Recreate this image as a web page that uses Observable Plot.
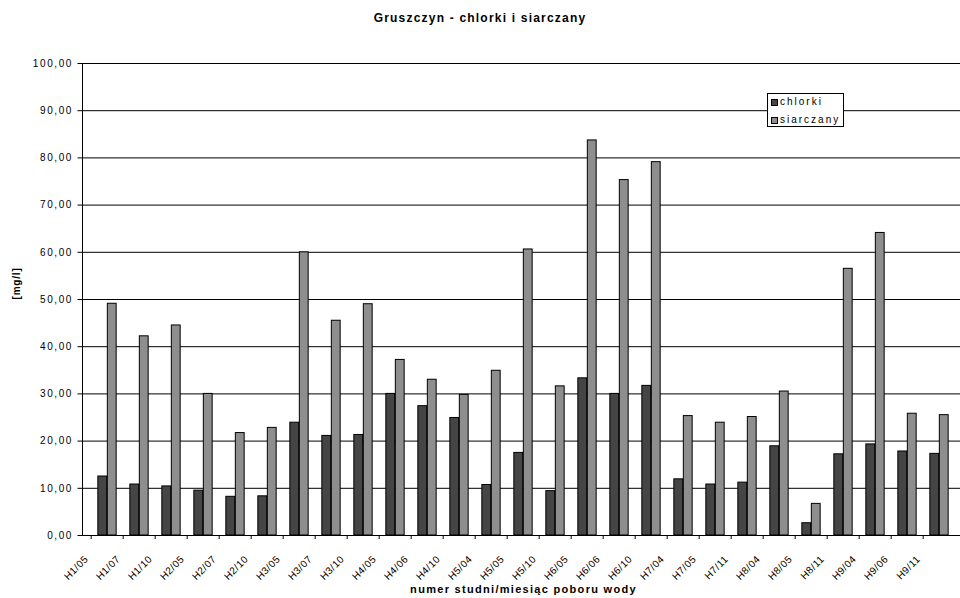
<!DOCTYPE html>
<html lang="pl">
<head>
<meta charset="utf-8">
<script src="https://cdn.jsdelivr.net/npm/d3@7"></script>
<script src="https://cdn.jsdelivr.net/npm/@observablehq/plot@0.6"></script>
<style>
  body { margin: 0; background: #fff; }
  #chart {
    position: relative; width: 960px; height: 598px; overflow: hidden;
    font-family: "Liberation Sans", Arial, sans-serif; color: #000; background: #fff;
  }
  #title {
    height: 36px; line-height: 36px; text-align: center;
    font-weight: bold; font-size: 12px; letter-spacing: 1.2px;
  }
  #chart svg { display: block; max-width: none; overflow: hidden; }
  #chart svg [aria-label="y-axis tick label"] { letter-spacing: 1.6px; }
  #chart svg [aria-label="x-axis tick label"] { letter-spacing: 0.5px; }
  #chart svg .xtitle { letter-spacing: 1.3px; }
  #chart svg .ytitle { letter-spacing: 0.8px; }
  #legend {
    position: absolute; left: 767px; top: 93px; width: 75px; height: 32px;
    border: 1px solid #000; background: #fff; font-size: 10px; letter-spacing: 2px;
  }
  #legend .sw { position: absolute; left: 3px; width: 5px; height: 5px; border: 1px solid #000; }
  #legend .lb { position: absolute; left: 12px; line-height: 14px; white-space: nowrap; }
</style>
</head>
<body>
<div id="chart">
  <div id="title">Gruszczyn - chlorki i siarczany</div>
  <div id="legend"></div>
</div>
<script>
// Sampling points: well number / month of sampling
const categories = [
  "H1/05", "H1/07", "H1/10", "H2/05", "H2/07", "H2/10", "H3/05", "H3/07", "H3/10",
  "H4/05", "H4/06", "H4/10", "H5/04", "H5/05", "H5/10", "H6/05", "H6/06", "H6/10",
  "H7/04", "H7/05", "H7/11", "H8/04", "H8/05", "H8/11", "H9/04", "H9/06", "H9/11"
];

// Chloride concentration [mg/l]
const chlorki = [
  12.5, 10.8, 10.4, 9.5, 8.2, 8.3, 23.9, 21.1, 21.3,
  30.0, 27.4, 24.9, 10.7, 17.5, 9.4, 33.3, 30.0, 31.7,
  11.9, 10.8, 11.2, 18.9, 2.6, 17.2, 19.3, 17.8, 17.3
];

// Sulphate concentration [mg/l]
const siarczany = [
  49.1, 42.2, 44.5, 30.0, 21.7, 22.8, 60.0, 45.5, 49.0,
  37.2, 33.0, 29.8, 34.9, 60.6, 31.6, 83.7, 75.3, 79.1,
  25.3, 23.9, 25.1, 30.5, 6.7, 56.5, 64.1, 25.8, 25.5
];

const seriesNames = ["chlorki", "siarczany"];
const seriesColors = ["#454545", "#8e8e8e"];

const yTicks = [0, 10, 20, 30, 40, 50, 60, 70, 80, 90, 100];
const yTitle = "[mg/l]";
const xTitle = "numer studni/miesiąc poboru wody";

const rowsCl = categories.map((c, i) => ({cat: c, value: chlorki[i]}));
const rowsSo = categories.map((c, i) => ({cat: c, value: siarczany[i]}));

const width = 964, marginLeft = 82, marginRight = 0;
const step = (width - marginLeft - marginRight) / categories.length;
const barW = 9.5;
const outer = step / 2 - barW;
const fmt = d => d3.format(".2f")(d).replace(".", ",");

const chart = Plot.plot({
  width,
  height: 562,
  marginTop: 27,
  marginBottom: 63,
  marginLeft,
  marginRight,
  style: {fontFamily: "'Liberation Sans', Arial, sans-serif", fontSize: "10px", color: "#000", background: "#fff"},
  x: {domain: categories, padding: 0, axis: null},
  y: {domain: [0, 100], axis: null},
  marks: [
    Plot.gridY(yTicks.slice(1), {stroke: "#000", strokeOpacity: 1}),
    Plot.barY(rowsCl, {x: "cat", y: "value", fill: seriesColors[0], stroke: "#000", strokeWidth: 1,
      insetLeft: outer, insetRight: step / 2}),
    Plot.barY(rowsSo, {x: "cat", y: "value", fill: seriesColors[1], stroke: "#000", strokeWidth: 1,
      insetLeft: step / 2, insetRight: outer}),
    Plot.ruleY([0], {stroke: "#000"}),
    Plot.frame({anchor: "left", stroke: "#000"}),
    Plot.axisY(yTicks, {tickSize: 4.5, tickPadding: 5, tickFormat: fmt, fontSize: 10, label: null}),
    // tick marks sit on the category boundaries
    Plot.axisX({tickSize: 4, fill: "none", stroke: "#000", dx: -step / 2, label: null}),
    Plot.axisX({tickSize: 0, tickPadding: 22, tickRotate: -45, dx: -21, fontSize: 10, label: null}),
    Plot.text([xTitle], {frameAnchor: "bottom", dy: 54, lineAnchor: "middle",
      fontWeight: "bold", fontSize: 11, className: "xtitle"}),
    Plot.text([yTitle], {frameAnchor: "left", dx: -66, rotate: -90,
      fontWeight: "bold", fontSize: 10, className: "ytitle"})
  ]
});

const root = document.getElementById("chart");
root.insertBefore(chart, document.getElementById("legend"));

const legend = document.getElementById("legend");
seriesNames.forEach((name, i) => {
  const sw = document.createElement("div");
  sw.className = "sw";
  sw.style.top = (5 + i * 18) + "px";
  sw.style.background = seriesColors[i];
  legend.appendChild(sw);
  const lb = document.createElement("div");
  lb.className = "lb";
  lb.style.top = (1 + i * 18) + "px";
  lb.textContent = name;
  legend.appendChild(lb);
});
</script>
</body>
</html>
